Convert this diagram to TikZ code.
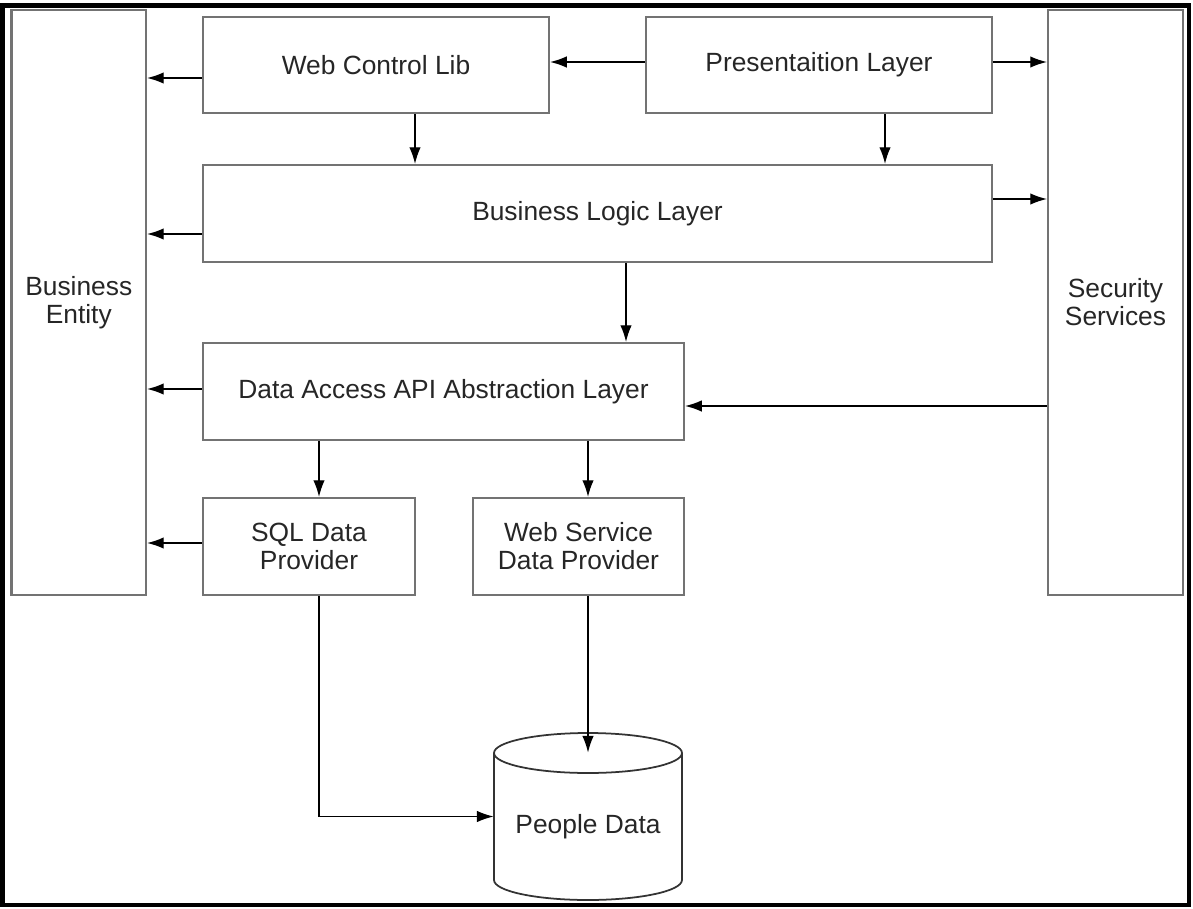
\documentclass[tikz,border=0pt]{standalone}
\usepackage{fontspec}
\setmainfont{Liberation Sans}
\usetikzlibrary{arrows.meta}

\tikzset{
  layer/.style 2 args={draw=black!55, line width=1.2pt, align=center,
    minimum width=#1*0.02cm, minimum height=#2*0.02cm, inner sep=0pt,
    text=black!85},
  arr/.style={-{Latex[length=9.5pt,width=6.5pt]}, line width=0.8pt},
}

\begin{document}
\begin{tikzpicture}[x=0.02cm, y=-0.02cm, font=\fontsize{15}{16}\selectfont]
    \useasboundingbox (0,0) rectangle (1193,909);
    \draw[line width=2.3pt] (2.5,5.5) rectangle (1189,905);

    % side columns
    \node[layer={134.5}{585}] (be) at (78.75,302.5) {Business\\Entity};
    \node[layer={135}{585}] (sec) at (1115.5,302.5) {Security\\Services};

    % layers
    \node[layer={346}{96}] (wcl) at (376,65) {Web Control Lib};
    \node[layer={346}{96}] (pres) at (819,65) {Presentaition Layer};
    \node[layer={789}{97}] (bll) at (597.5,213.5) {Business Logic Layer};
    \node[layer={481}{97}] (dal) at (443.5,391.5) {Data Access API Abstraction Layer};
    \node[layer={212}{97}] (sql) at (309,546.5) {SQL Data\\Provider};
    \node[layer={211}{97}] (ws) at (578.5,546.5) {Web Service\\Data Provider};

    % database
    \node[minimum width=188*0.02cm, minimum height=127*0.02cm, inner sep=0pt] (people) at (588,816.5) {};
    \draw[line width=1pt, black!80] (588,753) ellipse [x radius=1.88cm, y radius=0.4cm];
    \draw[line width=1pt, black!80] (494,753) -- (494,880)
        arc[start angle=180, end angle=360, x radius=1.88cm, y radius=0.4cm] -- (682,753);
    \node[text=black!85] (pdtext) at (588,827) {People Data};

    % arrows
    \draw[arr] (wcl.west |- 0,78) -- (be.east |- 0,78);
    \draw[arr] (pres.west |- 0,62) -- (wcl.east |- 0,62);
    \draw[arr] (pres.east |- 0,62) -- (sec.west |- 0,62);
    \draw[arr] (wcl.south -| 415,0) -- (bll.north -| 415,0);
    \draw[arr] (pres.south -| 885,0) -- (bll.north -| 885,0);
    \draw[arr] (bll.east |- 0,199) -- (sec.west |- 0,199);
    \draw[arr] (bll.west |- 0,234) -- (be.east |- 0,234);
    \draw[arr] (bll.south -| 626,0) -- (dal.north -| 626,0);
    \draw[arr] (dal.west |- 0,389) -- (be.east |- 0,389);
    \draw[arr] (sec.west |- 0,406) -- (dal.east |- 0,406);
    \draw[arr] (dal.south -| 319,0) -- (sql.north -| 319,0);
    \draw[arr] (dal.south -| 588,0) -- (ws.north -| 588,0);
    \draw[arr] (sql.west |- 0,543) -- (be.east |- 0,543);
    \draw[arr] (sql.south -| 319,0) |- (people.west);
    \draw[arr] (ws.south -| 588,0) -- (people.north);
\end{tikzpicture}
\end{document}
